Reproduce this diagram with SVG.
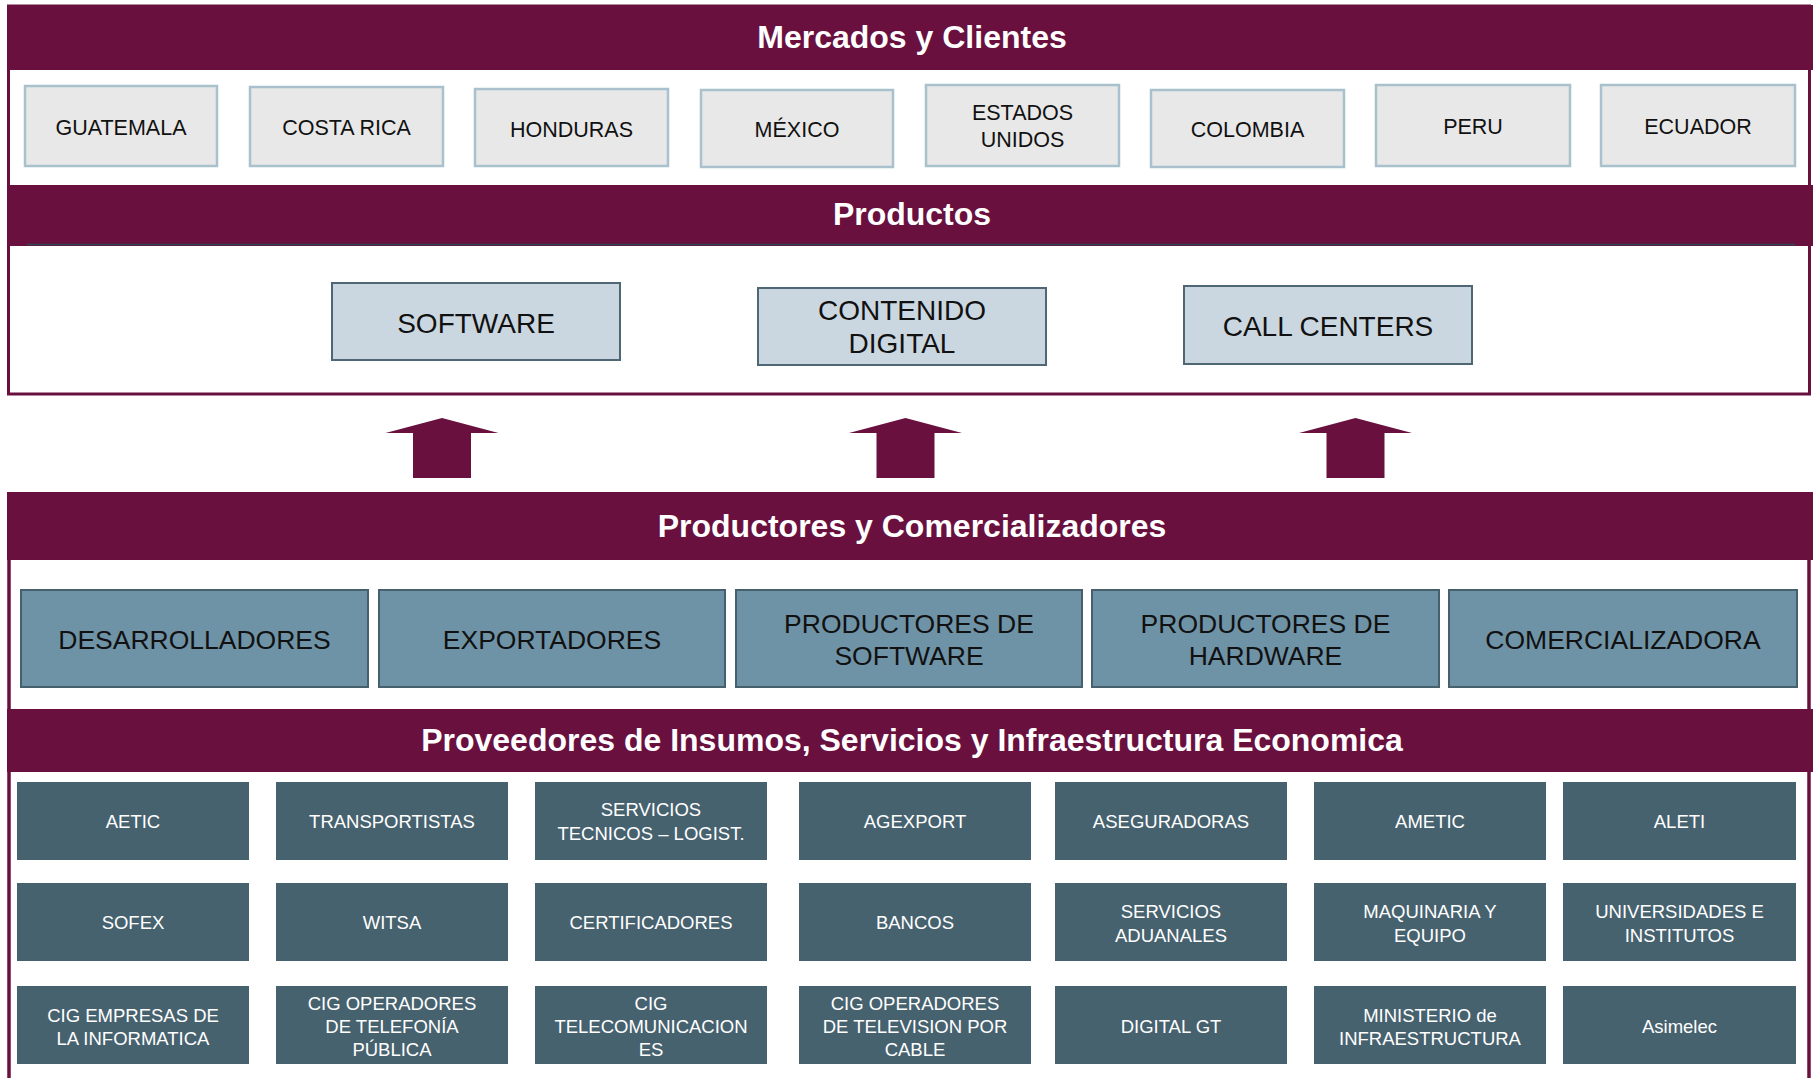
<svg xmlns="http://www.w3.org/2000/svg" width="1813" height="1078" viewBox="0 0 1813 1078">
<style>
.frame{fill:#FFFFFF;stroke:#69103F;stroke-width:3}
.band{fill:#69103F}
.title{font-family:"Liberation Sans",Arial,sans-serif;font-weight:bold;font-size:32px;fill:#FFFFFF;text-anchor:middle}
.country rect{fill:#E8E8E8;stroke:#A9C1CC;stroke-width:2.5}
.country text{font-family:"Liberation Sans",Arial,sans-serif;font-size:21.5px;fill:#111111;text-anchor:middle}
.product rect{fill:#CBD7E0;stroke:#4F6675;stroke-width:2}
.product text{font-family:"Liberation Sans",Arial,sans-serif;font-size:28px;fill:#111111;text-anchor:middle}
.actor rect{fill:#6F93A6;stroke:#46606E;stroke-width:2}
.actor text{font-family:"Liberation Sans",Arial,sans-serif;font-size:26.5px;fill:#111111;text-anchor:middle}
.prov rect{fill:#47626F}
.prov text{font-family:"Liberation Sans",Arial,sans-serif;font-size:18.5px;fill:#FFFFFF;text-anchor:middle}
.arrow{fill:#69103F}
</style>
<rect width="1813" height="1078" fill="#FFFFFF"/>

<!-- Top section -->
<g id="section-mercados-productos">
<rect class="frame" x="8.5" y="6" width="1801" height="388"/>
<rect class="band" x="7" y="5" width="1806" height="65"/>
<text class="title" x="912" y="48">Mercados y Clientes</text>
<rect class="band" x="7" y="185" width="1806" height="61"/>
<line x1="27" y1="244.5" x2="1795" y2="244.5" stroke="#2D4756" stroke-width="1.5"/>
<text class="title" x="912" y="225">Productos</text>
</g>

<g id="guatemala" class="country"><rect x="25" y="86" width="192" height="80"/><text x="121" y="135">GUATEMALA</text></g>
<g id="costa-rica" class="country"><rect x="250" y="87" width="193" height="79"/><text x="346.5" y="135">COSTA RICA</text></g>
<g id="honduras" class="country"><rect x="475" y="89" width="193" height="77"/><text x="571.5" y="137">HONDURAS</text></g>
<g id="mexico" class="country"><rect x="701" y="90" width="192" height="77"/><text x="797" y="137">MÉXICO</text></g>
<g id="estados-unidos" class="country"><rect x="926" y="85" width="193" height="81"/><text x="1022.5" y="120">ESTADOS</text><text x="1022.5" y="147">UNIDOS</text></g>
<g id="colombia" class="country"><rect x="1151" y="90" width="193" height="77"/><text x="1247.5" y="137">COLOMBIA</text></g>
<g id="peru" class="country"><rect x="1376" y="85" width="194" height="81"/><text x="1473" y="134">PERU</text></g>
<g id="ecuador" class="country"><rect x="1601" y="85" width="194" height="81"/><text x="1698" y="134">ECUADOR</text></g>

<g id="software" class="product"><rect x="332" y="283" width="288" height="77"/><text x="476" y="333">SOFTWARE</text></g>
<g id="contenido-digital" class="product"><rect x="758" y="288" width="288" height="77"/><text x="902" y="320">CONTENIDO</text><text x="902" y="353">DIGITAL</text></g>
<g id="call-centers" class="product"><rect x="1184" y="286" width="288" height="78"/><text x="1328" y="336">CALL CENTERS</text></g>

<!-- Connectors: block arrows -->
<g id="connectors">
<polygon class="arrow" points="442,418 498.5,433 471,433 471,478 413,478 413,433 385.5,433"/>
<polygon class="arrow" points="905.5,418 962,433 934.5,433 934.5,478 876.5,478 876.5,433 849,433"/>
<polygon class="arrow" points="1355.5,418 1412,433 1384.5,433 1384.5,478 1326.5,478 1326.5,433 1299,433"/>
</g>

<!-- Bottom section -->
<g id="section-productores-proveedores">
<path d="M9,492 V1078 M1809,492 V1078" fill="none" stroke="#69103F" stroke-width="3.5"/>
<rect class="band" x="7" y="492" width="1806" height="68"/>
<text class="title" x="912" y="537">Productores y Comercializadores</text>
<rect class="band" x="7" y="709" width="1806" height="63"/>
<text class="title" x="912" y="751">Proveedores de Insumos, Servicios y Infraestructura Economica</text>
</g>

<g id="desarrolladores" class="actor"><rect x="21" y="590" width="347" height="97"/><text x="194.5" y="649">DESARROLLADORES</text></g>
<g id="exportadores" class="actor"><rect x="379" y="590" width="346" height="97"/><text x="552" y="649">EXPORTADORES</text></g>
<g id="productores-software" class="actor"><rect x="736" y="590" width="346" height="97"/><text x="909" y="633">PRODUCTORES DE</text><text x="909" y="665">SOFTWARE</text></g>
<g id="productores-hardware" class="actor"><rect x="1092" y="590" width="347" height="97"/><text x="1265.5" y="633">PRODUCTORES DE</text><text x="1265.5" y="665">HARDWARE</text></g>
<g id="comercializadora" class="actor"><rect x="1449" y="590" width="348" height="97"/><text x="1623" y="649">COMERCIALIZADORA</text></g>

<!-- Row 1 -->
<g id="aetic" class="prov"><rect x="17" y="782" width="232" height="78"/><text x="133" y="828">AETIC</text></g>
<g id="transportistas" class="prov"><rect x="276" y="782" width="232" height="78"/><text x="392" y="828">TRANSPORTISTAS</text></g>
<g id="servicios-tecnicos" class="prov"><rect x="535" y="782" width="232" height="78"/><text x="651" y="816">SERVICIOS</text><text x="651" y="840">TECNICOS – LOGIST.</text></g>
<g id="agexport" class="prov"><rect x="799" y="782" width="232" height="78"/><text x="915" y="828">AGEXPORT</text></g>
<g id="aseguradoras" class="prov"><rect x="1055" y="782" width="232" height="78"/><text x="1171" y="828">ASEGURADORAS</text></g>
<g id="ametic" class="prov"><rect x="1314" y="782" width="232" height="78"/><text x="1430" y="828">AMETIC</text></g>
<g id="aleti" class="prov"><rect x="1563" y="782" width="233" height="78"/><text x="1679.5" y="828">ALETI</text></g>

<!-- Row 2 -->
<g id="sofex" class="prov"><rect x="17" y="883" width="232" height="78"/><text x="133" y="929">SOFEX</text></g>
<g id="witsa" class="prov"><rect x="276" y="883" width="232" height="78"/><text x="392" y="929">WITSA</text></g>
<g id="certificadores" class="prov"><rect x="535" y="883" width="232" height="78"/><text x="651" y="929">CERTIFICADORES</text></g>
<g id="bancos" class="prov"><rect x="799" y="883" width="232" height="78"/><text x="915" y="929">BANCOS</text></g>
<g id="servicios-aduanales" class="prov"><rect x="1055" y="883" width="232" height="78"/><text x="1171" y="918">SERVICIOS</text><text x="1171" y="942">ADUANALES</text></g>
<g id="maquinaria" class="prov"><rect x="1314" y="883" width="232" height="78"/><text x="1430" y="918">MAQUINARIA Y</text><text x="1430" y="942">EQUIPO</text></g>
<g id="universidades" class="prov"><rect x="1563" y="883" width="233" height="78"/><text x="1679.5" y="918">UNIVERSIDADES E</text><text x="1679.5" y="942">INSTITUTOS</text></g>

<!-- Row 3 -->
<g id="cig-informatica" class="prov"><rect x="17" y="986" width="232" height="78"/><text x="133" y="1022">CIG EMPRESAS DE</text><text x="133" y="1045">LA INFORMATICA</text></g>
<g id="cig-telefonia" class="prov"><rect x="276" y="986" width="232" height="78"/><text x="392" y="1010">CIG OPERADORES</text><text x="392" y="1033">DE TELEFONÍA</text><text x="392" y="1056">PÚBLICA</text></g>
<g id="cig-telecom" class="prov"><rect x="535" y="986" width="232" height="78"/><text x="651" y="1010">CIG</text><text x="651" y="1033">TELECOMUNICACION</text><text x="651" y="1056">ES</text></g>
<g id="cig-cable" class="prov"><rect x="799" y="986" width="232" height="78"/><text x="915" y="1010">CIG OPERADORES</text><text x="915" y="1033">DE TELEVISION POR</text><text x="915" y="1056">CABLE</text></g>
<g id="digital-gt" class="prov"><rect x="1055" y="986" width="232" height="78"/><text x="1171" y="1033">DIGITAL GT</text></g>
<g id="ministerio" class="prov"><rect x="1314" y="986" width="232" height="78"/><text x="1430" y="1022">MINISTERIO de</text><text x="1430" y="1045">INFRAESTRUCTURA</text></g>
<g id="asimelec" class="prov"><rect x="1563" y="986" width="233" height="78"/><text x="1679.5" y="1033">Asimelec</text></g>
</svg>
